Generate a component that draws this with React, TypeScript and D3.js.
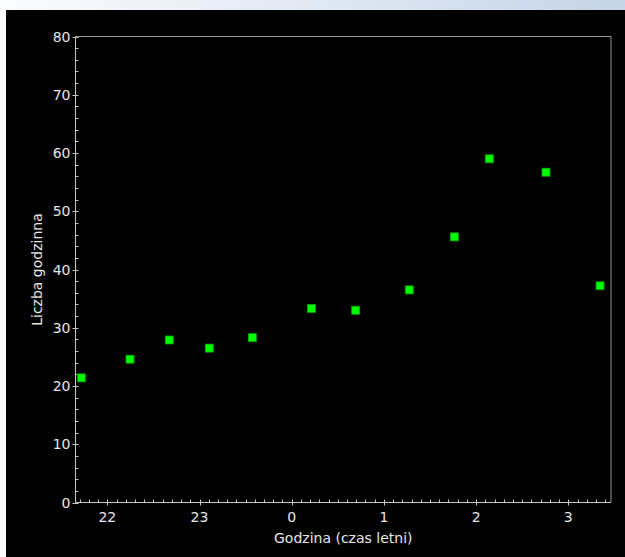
import React, { useEffect, useRef } from "react";
import * as d3 from "d3";

// hours as continuous values (24 = 0:00, 25 = 1:00 ...)
const hours = [21.718, 22.246, 22.672, 23.106, 23.573, 24.213, 24.694, 25.275, 25.764, 26.143, 26.758, 27.344];
const counts = [21.4, 24.6, 27.9, 26.5, 28.3, 33.3, 33.0, 36.5, 45.6, 59.0, 56.7, 37.2];
const xTicks = [22, 23, 24, 25, 26, 27];
const yTicks = [0, 10, 20, 30, 40, 50, 60, 70, 80];

const W = 625;
const H = 557;
const margin = { left: 75.5, right: 611, top: 36.5, bottom: 502.5 };

const App: React.FC = () => {
  const svgRef = useRef<SVGSVGElement>(null);

  useEffect(() => {
    const svg = d3.select(svgRef.current);
    svg.selectAll("*").remove();

    const defs = svg.append("defs");
    const grad = defs
      .append("linearGradient")
      .attr("id", "topgrad")
      .attr("x1", "0")
      .attr("x2", "1")
      .attr("y1", "0")
      .attr("y2", "0");
    grad.append("stop").attr("offset", "0").attr("stop-color", "#fbfcfe");
    grad.append("stop").attr("offset", "1").attr("stop-color", "#c5d4e8");

    svg.append("rect").attr("width", W).attr("height", H).attr("fill", "#f9fafc");
    svg.append("rect").attr("width", W).attr("height", 10).attr("fill", "url(#topgrad)");
    svg.append("rect").attr("x", 6).attr("y", 10).attr("width", W - 6).attr("height", H - 10).attr("fill", "#000");

    const x = d3.scaleLinear().domain([21.655, 27.463]).range([margin.left, margin.right]);
    const y = d3.scaleLinear().domain([0, 80]).range([margin.bottom, margin.top]);

    const axisColor = "#c8c8c8";
    const textColor = "#e6e6e6";
    const font = "DejaVu Sans, sans-serif";

    // frame
    svg
      .append("path")
      .attr("d", `M${margin.left},${margin.top}H${margin.right}V${margin.bottom}`)
      .attr("fill", "none")
      .attr("stroke", "#9a9a9a")
      .attr("stroke-width", 1);

    // axes lines
    svg
      .append("path")
      .attr("d", `M${margin.left},${margin.top}V${margin.bottom}H${margin.right}`)
      .attr("fill", "none")
      .attr("stroke", axisColor)
      .attr("stroke-width", 1);

    // y minor ticks
    const yMinor = d3.range(0, 80.01, 2).filter((v) => v % 10 !== 0);
    svg
      .append("g")
      .selectAll("line")
      .data(yMinor)
      .join("line")
      .attr("x1", margin.left)
      .attr("x2", margin.left + 3)
      .attr("y1", (d) => Math.round(y(d)) + 0.5)
      .attr("y2", (d) => Math.round(y(d)) + 0.5)
      .attr("stroke", axisColor);

    svg
      .append("g")
      .selectAll("line")
      .data(yTicks)
      .join("line")
      .attr("x1", margin.left - 3)
      .attr("x2", margin.left + 3)
      .attr("y1", (d) => Math.round(y(d)) + 0.5)
      .attr("y2", (d) => Math.round(y(d)) + 0.5)
      .attr("stroke", axisColor);

    svg
      .append("g")
      .selectAll("text")
      .data(yTicks)
      .join("text")
      .attr("x", margin.left - 5)
      .attr("y", (d) => y(d) + 5)
      .attr("text-anchor", "end")
      .attr("fill", textColor)
      .style("font", `14px ${font}`)
      .text((d) => d3.format("d")(d));

    // x minor ticks
    const xMinor = d3
      .range(21.7, 27.46, 0.1)
      .map((v) => Math.round(v * 10) / 10)
      .filter((v) => Math.abs(v - Math.round(v)) > 0.01);
    svg
      .append("g")
      .selectAll("line")
      .data(xMinor)
      .join("line")
      .attr("x1", (d) => Math.round(x(d)) + 0.5)
      .attr("x2", (d) => Math.round(x(d)) + 0.5)
      .attr("y1", margin.bottom)
      .attr("y2", margin.bottom - 3)
      .attr("stroke", axisColor);

    svg
      .append("g")
      .selectAll("line")
      .data(xTicks)
      .join("line")
      .attr("x1", (d) => Math.round(x(d)) + 0.5)
      .attr("x2", (d) => Math.round(x(d)) + 0.5)
      .attr("y1", margin.bottom - 3)
      .attr("y2", margin.bottom + 3)
      .attr("stroke", axisColor);

    svg
      .append("g")
      .selectAll("text")
      .data(xTicks)
      .join("text")
      .attr("x", (d) => x(d))
      .attr("y", margin.bottom + 19.5)
      .attr("text-anchor", "middle")
      .attr("fill", textColor)
      .style("font", `14px ${font}`)
      .text((d) => String(d % 24));

    // axis titles
    svg
      .append("text")
      .attr("x", (margin.left + margin.right) / 2)
      .attr("y", 543)
      .attr("text-anchor", "middle")
      .attr("fill", textColor)
      .style("font", `14px ${font}`)
      .text("Godzina (czas letni)");

    svg
      .append("text")
      .attr("transform", `translate(42,${(margin.top + margin.bottom) / 2}) rotate(-90)`)
      .attr("text-anchor", "middle")
      .attr("fill", textColor)
      .style("font", `14px ${font}`)
      .text("Liczba godzinna");

    // points
    const pts = hours.map((h, i) => ({ h, c: counts[i] }));
    svg
      .append("g")
      .selectAll("rect")
      .data(pts)
      .join("rect")
      .attr("x", (d) => x(d.h) - 4)
      .attr("y", (d) => y(d.c) - 4)
      .attr("width", 8)
      .attr("height", 8)
      .attr("fill", "#00ff00")
      .attr("stroke", "#00a000")
      .attr("stroke-width", 0.8);
  }, []);

  return (
    <svg
      ref={svgRef}
      width={W}
      height={H}
      style={{ position: "absolute", left: 0, top: 0, display: "block" }}
    ></svg>
  );
};

export default App;
